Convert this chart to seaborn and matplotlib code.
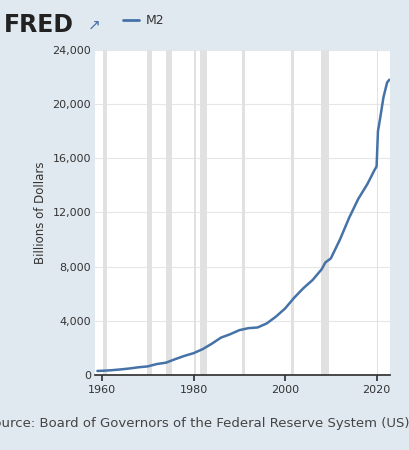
import numpy as np
import pandas as pd
import matplotlib
matplotlib.use("Agg")
import matplotlib.pyplot as plt
import seaborn as sns

years = [1959.0, 1960.0, 1962.0, 1964.0, 1966.0, 1968.0, 1970.0, 1972.0, 1974.0, 1976.0,
         1978.0, 1980.0, 1982.0, 1984.0, 1986.0, 1988.0, 1990.0, 1992.0, 1994.0, 1996.0,
         1998.0, 2000.0, 2002.0, 2004.0, 2006.0, 2008.0, 2008.8, 2010.0, 2012.0, 2014.0,
         2016.0, 2018.0, 2019.5, 2020.0, 2020.3, 2020.8, 2021.5, 2022.3, 2022.8]
m2 = [287, 300, 340, 400, 470, 560, 625, 800, 900, 1160,
      1400, 1600, 1900, 2300, 2750, 3000, 3300, 3450, 3500, 3800,
      4300, 4900, 5700, 6400, 7000, 7800, 8300, 8600, 10000, 11600,
      13000, 14100, 15100, 15400, 18000, 19000, 20500, 21600, 21800]
recessions = [(1960.3, 1961.1), (1969.9, 1970.9), (1973.9, 1975.2), (1980.0, 1980.5),
              (1981.5, 1982.9), (1990.5, 1991.2), (2001.2, 2001.9), (2007.9, 2009.5),
              (2020.1, 2020.35)]

df = pd.DataFrame({"year": years, "M2": m2})

sns.set_theme(style="white")
bg = "#e1e9f0"
fig = plt.figure(figsize=(4.1, 4.5), dpi=100, facecolor=bg)
ax = fig.add_axes([0.232, 0.167, 0.72, 0.722])
ax.set_facecolor("white")
for a, b in recessions:
    ax.axvspan(a, b, color="#e1e1e1", lw=0)
sns.lineplot(data=df, x="year", y="M2", ax=ax, color="#4572a7", lw=1.8)
ax.set_xlim(1958.5, 2023)
ax.set_ylim(0, 24000)
ax.set_yticks(range(0, 24001, 4000))
ax.set_yticklabels([f"{v:,}" for v in range(0, 24001, 4000)])
ax.set_xticks([1960, 1980, 2000, 2020])
ax.grid(axis="y", color="#e6e6e6", lw=0.8)
for s in ["top", "right", "left"]:
    ax.spines[s].set_visible(False)
ax.spines["bottom"].set_color("#333333")
ax.tick_params(axis="both", labelsize=8, colors="#333333", length=0, pad=3)
ax.tick_params(axis="x", length=4, direction="out", bottom=True)
ax.set_xlabel("")
ax.set_ylabel("Billions of Dollars", fontsize=8.5, color="#333333")

fig.text(0.01, 0.945, "FRED", fontsize=17, fontweight="bold", color="#222222", va="center")
fig.text(0.215, 0.945, "\u2197", fontsize=11, color="#4572a7", va="center")
fig.lines.append(plt.Line2D([0.3, 0.34], [0.955, 0.955], transform=fig.transFigure, color="#4572a7", lw=2))
fig.text(0.355, 0.955, "M2", fontsize=9, color="#333333", va="center")
fig.text(0.48, 0.06, "Source: Board of Governors of the Federal Reserve System (US)",
         fontsize=9.5, color="#444444", ha="center", va="center")
fig.savefig("out.png", dpi=100, facecolor=bg)
